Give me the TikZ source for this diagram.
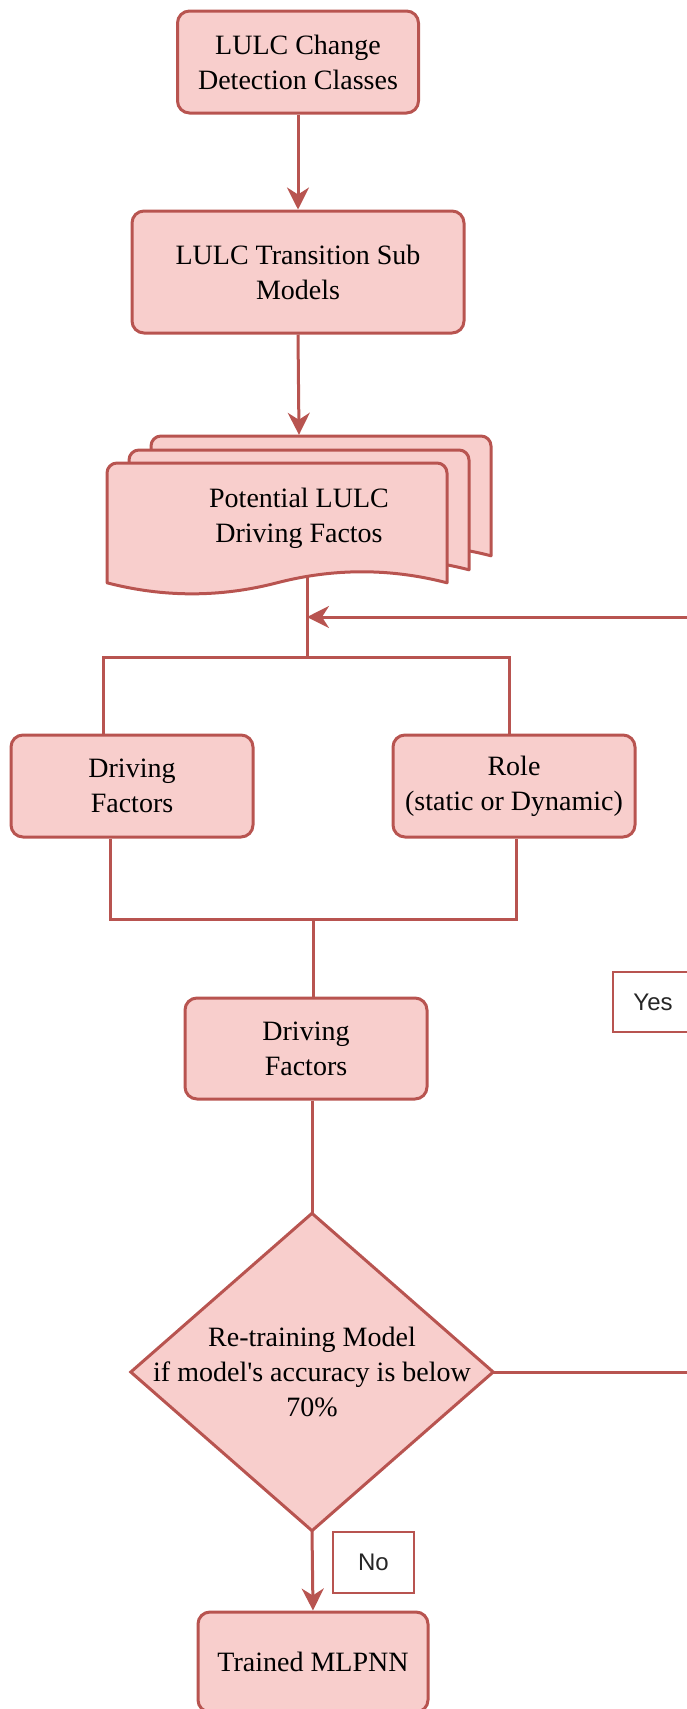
\documentclass[tikz,border=0pt]{standalone}
\usepackage{fontspec}
\setmainfont{Liberation Serif}
\newfontfamily\labelfont{Liberation Sans}
\usetikzlibrary{arrows.meta,backgrounds}
\definecolor{boxfill}{HTML}{F8CECC}
\definecolor{boxline}{HTML}{B85450}

\begin{document}
\begin{tikzpicture}[x=1pt,y=-1pt,
  box/.style={draw=boxline, fill=boxfill, line width=3pt, rounded corners=12pt,
              inner sep=0pt, align=center, font=\fontsize{28}{35}\selectfont},
  plain/.style={align=center, inner sep=0pt, font=\fontsize{28}{35}\selectfont},
  flow/.style={draw=boxline, line width=3pt},
  arr/.style={flow, -{Stealth[length=22pt,width=22pt,inset=7pt]}},
  tag/.style={draw=boxline, fill=white, line width=1.5pt, inner sep=0pt,
              font=\labelfont\fontsize{24}{28}\selectfont, text=black!85},
  docshape/.style={draw=boxline, fill=boxfill, line width=3pt, line join=round}
]
\useasboundingbox (0,0) rectangle (687,1709);

% process boxes
\node[box, minimum width=241pt, minimum height=102pt] (cls) at (298,62) {LULC Change\\Detection Classes};
\node[box, minimum width=332pt, minimum height=122pt] (sub) at (298,272) {LULC Transition Sub\\Models};

% stacked documents
\node[minimum width=384pt, minimum height=160pt, inner sep=0pt] (docs) at (299,515) {};
\foreach \dx/\dy in {44/-27,22/-13,0/0}{
  \draw[docshape, shift={(107+\dx,463+\dy)}]
    (0,119.8) -- (0,10) arc[start angle=180,end angle=270,radius=10]
    -- (330,0) arc[start angle=270,end angle=360,radius=10]
    -- (340,119.8) .. controls (283.3,105.1) and (226.7,105.1) .. (170,119.8)
    .. controls (113.3,134.5) and (56.7,134.5) .. (0,119.8) -- cycle;
}
\node[plain] (docslabel) at (299,518) {Potential LULC\\Driving Factos};

\node[box, minimum width=242pt, minimum height=102pt] (drv) at (132,786) {Driving\\Factors};
\node[box, minimum width=242pt, minimum height=102pt] (role) at (514,786) {Role\\(static or Dynamic)};
\node[box, minimum width=242pt, minimum height=101pt] (drv2) at (306,1048.5) {Driving\\Factors};

% decision
\node[minimum width=362pt, minimum height=317pt, inner sep=0pt] (dec) at (312,1372) {};
\draw[docshape, line join=miter] (dec.north) -- (dec.east) -- (dec.south) -- (dec.west) -- cycle;
\node[plain] (declabel) at (dec.center) {Re-training Model\\if model\textquotesingle s accuracy is below\\70\%};

\node[box, minimum width=230pt, minimum height=100pt] (mlp) at (313,1662) {Trained MLPNN};

% edge labels
\node[tag, minimum width=80pt, minimum height=60pt] (yes) at (653,1002) {Yes};
\node[tag, minimum width=81pt, minimum height=61pt] (no) at (373.5,1562.5) {No};

% junction points
\coordinate (split) at (307,657);
\coordinate (splitL) at (103,657);
\coordinate (splitR) at (509,657);
\coordinate (merge) at (313,919);
\coordinate (mergeL) at (110,919);
\coordinate (mergeR) at (516,919);
\coordinate (loopR) at (687,617);
\coordinate (retR) at (687,1372);

\begin{scope}[on background layer]
  \draw[arr] (cls.south) -- (sub.north);
  \draw[arr] (sub.south) -- (docs.north);
  \draw[flow] (docs.center -| split) -- (split);
  \draw[arr] (loopR) -- (loopR -| split);
  \draw[flow] (drv.north -| splitL) |- (splitR) -- (role.north -| splitR);
  \draw[flow] (drv.south -| mergeL) |- (mergeR) -- (role.south -| mergeR);
  \draw[flow] (merge) -- (drv2.north -| merge);
  \draw[flow] (drv2.south -| dec.north) -- (dec.north);
  \draw[flow] (dec.east) -- (retR);
  \draw[arr] (dec.south) -- (mlp.north);
\end{scope}
\end{tikzpicture}
\end{document}
